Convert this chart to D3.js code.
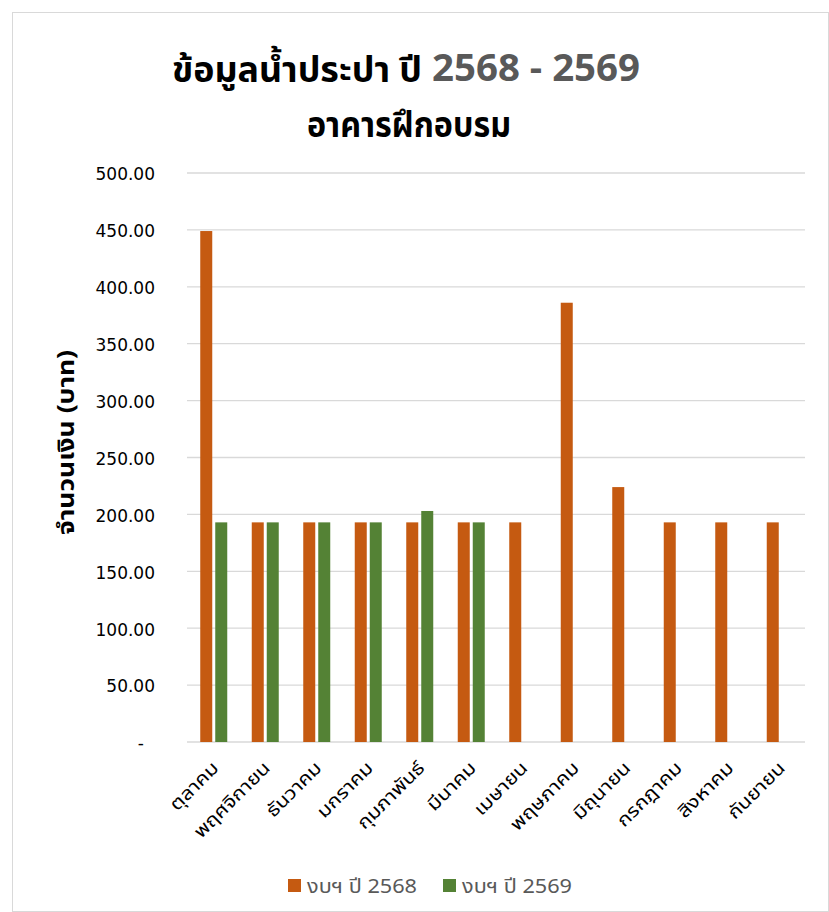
<!DOCTYPE html>
<html><head><meta charset="utf-8">
<script src="https://cdn.jsdelivr.net/npm/d3@7"></script>
<style>body{margin:0;background:#fff;} svg{display:block;font-family:Tahoma,"Noto Sans Thai","Leelawadee UI","Noto Sans",sans-serif;}</style>
</head><body><div id="chart"></div>
<script>
const categories = ["ตุลาคม","พฤศจิกายน","ธันวาคม","มกราคม","กุมภาพันธ์","มีนาคม","เมษายน","พฤษภาคม","มิถุนายน","กรกฎาคม","สิงหาคม","กันยายน"];
const series2568 = [449, 193, 193, 193, 193, 193, 193, 386, 224, 193, 193, 193];
const series2569 = [193, 193, 193, 193, 203, 193, null, null, null, null, null, null];
const seriesNames = ["งบฯ ปี 2568", "งบฯ ปี 2569"];
const seriesColors = ["#C55A11", "#548235"];
const yTicks = [0, 50, 100, 150, 200, 250, 300, 350, 400, 450, 500];

const W = 829, H = 912;
const m = {left: 187, right: 805, top: 173, bottom: 742};
const svg = d3.select("#chart").append("svg").attr("width", W).attr("height", H);
svg.append("rect").attr("x", 12.5).attr("y", 12.5).attr("width", W - 13).attr("height", H - 13)
  .attr("fill", "#fff").attr("stroke", "#d9d9d9");

const x = d3.scaleBand().domain(categories).range([m.left, m.right]);
const y = d3.scaleLinear().domain([0, 500]).range([m.bottom, m.top]);

// gridlines
svg.append("g").selectAll("line").data(yTicks).join("line")
  .attr("x1", m.left).attr("x2", m.right)
  .attr("y1", d => y(d)).attr("y2", d => y(d))
  .attr("stroke", "#d9d9d9").attr("stroke-width", 1.3);

// y axis labels
const yAxis = d3.axisLeft(y).tickValues(yTicks).tickSize(0).tickPadding(32)
  .tickFormat(d => d === 0 ? "-" : d3.format(".2f")(d));
const ga = svg.append("g").attr("transform", `translate(${m.left},0)`).call(yAxis);
ga.select(".domain").remove();
ga.selectAll("text").attr("font-size", 17).attr("fill", "#000")
  .attr("font-family", "'DejaVu Sans', sans-serif")
  .attr("dx", d => d === 0 ? -11 : 0).attr("dy", "0.4em");

// bars
const barW = 12, gap = 3;
const data = categories.map((c, i) => ({c, vals: [series2568[i], series2569[i]]}));
const groups = svg.append("g").selectAll("g").data(data).join("g")
  .attr("transform", d => `translate(${x(d.c) + x.bandwidth() / 2},0)`);
groups.selectAll("rect").data(d => d.vals.map((v, k) => ({v, k})).filter(e => e.v != null)).join("rect")
  .attr("x", e => e.k === 0 ? -barW - gap / 2 + 1 : gap / 2 + 1)
  .attr("width", barW)
  .attr("y", e => y(e.v)).attr("height", e => y(0) - y(e.v))
  .attr("fill", e => seriesColors[e.k]);

// x labels
svg.append("g").selectAll("text").data(categories).join("text")
  .attr("transform", d => `translate(${x(d) + x.bandwidth() / 2 + 7},${m.bottom + 27}) rotate(-45) scale(1.18,1)`)
  .attr("text-anchor", "end").attr("font-size", 18).attr("fill", "#000")
  .text(d => d);

// y title
svg.append("text").attr("transform", `translate(74,535) rotate(-90)`)
  .attr("text-anchor", "start").attr("font-size", 23).attr("font-weight", "bold").attr("fill", "#000")
  .attr("textLength", 185).attr("lengthAdjust", "spacingAndGlyphs")
  .text("จำนวนเงิน (บาท)");

// title
svg.append("text").attr("x", 172).attr("y", 82)
  .attr("font-size", 35).attr("font-weight", "bold").attr("fill", "#000")
  .attr("textLength", 250).attr("lengthAdjust", "spacingAndGlyphs")
  .text("ข้อมูลน้ำประปา ปี");
svg.append("text").attr("x", 432).attr("y", 81)
  .attr("font-size", 37).attr("font-weight", "bold").attr("fill", "#595959")
  .attr("font-family", "'Open Sans', 'Noto Sans', sans-serif")
  .attr("textLength", 208).attr("lengthAdjust", "spacingAndGlyphs")
  .text("2568 - 2569");
svg.append("text").attr("x", 307).attr("y", 137)
  .attr("font-size", 35).attr("font-weight", "bold").attr("fill", "#000")
  .attr("textLength", 204).attr("lengthAdjust", "spacingAndGlyphs")
  .text("อาคารฝึกอบรม");

// legend
const lg = svg.append("g");
const lx = [288, 443];
seriesNames.forEach((n, k) => {
  lg.append("rect").attr("x", lx[k]).attr("y", 879).attr("width", 13).attr("height", 13).attr("fill", seriesColors[k]);
  lg.append("text").attr("x", lx[k] + 19).attr("y", 893).attr("font-size", 20).attr("fill", "#595959")
    .attr("textLength", 110).attr("lengthAdjust", "spacingAndGlyphs").text(n);
});
</script></body></html>
